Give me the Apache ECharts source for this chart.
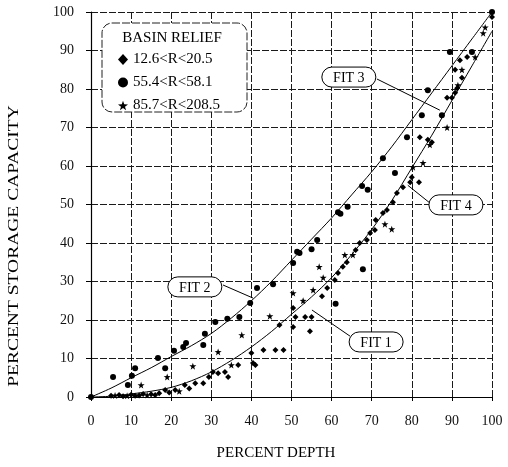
<!DOCTYPE html>
<html>
<head>
<meta charset="utf-8">
<script src="https://cdn.jsdelivr.net/npm/echarts@6/dist/echarts.min.js"></script>
<style>
html,body{margin:0;padding:0;background:#fff;}
#chart{width:508px;height:467px;}
</style>
</head>
<body>
<div id="chart"></div>
<script>
// ---- data ----
var xTicks = [0, 10, 20, 30, 40, 50, 60, 70, 80, 90, 100];
var yTicks = [0, 10, 20, 30, 40, 50, 60, 70, 80, 90, 100];
var seriesNames = ['12.6<R<20.5', '55.4<R<58.1', '85.7<R<208.5'];

// diamonds: basin relief 12.6 < R < 20.5
var lowRelief = [
  [5,0.3],[7,0.5],[8,0.2],[10,0.6],[11,0.3],[12,0.4],[13,0.8],[15,0.7],[16,0.5],[17,1.0],[18.5,1.8],
  [19.5,1.2],[21,1.8],[23.4,3.1],[24.5,2.2],[26,3.6],[28,3.6],[29.4,5.2],[30.4,6.5],[31.7,6.2],
  [33.4,6.5],[34.2,5.2],[36.7,8.3],
  [40,11.4],[40.4,8.8],[41,8.3],[43,12.2],[46,12.2],[48,12.2],[47,18.7],[50.4,18.2],[50.4,23.1],
  [51,20.8],[53.4,20.8],[55,20.8],[54.6,17.1],[57.6,26.2],[58.9,28.3],[60.8,30.4],[61.6,32.2],
  [62.8,33.8],[63.8,35],[66,38.2],[67,40],[68.8,40.8],[69.6,42.6],[70.8,43.4],[71,46],
  [72.8,47.8],[73.8,48.6],[75.3,50.6],[76.3,53],[77.8,54.5],[79.6,55.8],[81.8,55.8],[80,57.1],
  [82,67.5],[84,66.8],[85,66.2],[88.8,77.7],[90,77.7],[90.8,79],[91.3,80.2],[92.5,82.9],
  [90.8,85],[92,87.5],[93.8,88.3],[100,98.7]
];
// circles: basin relief 55.4 < R < 58.1
var midRelief = [
  [0,0],[5.5,5.2],[9.2,3.1],[10.2,5.5],[11,7.5],[16.7,10.1],[18.5,7.5],[20.7,12],[23,13],[23.7,14],
  [28,13.5],[28.4,16.4],[31,19.5],[34,20.3],[37,20.8],[39.7,24.4],[41.4,28.3],[45.4,29.3],
  [50.4,34.8],[51.4,37.7],[52,37.4],[55,38.4],[56.4,40.8],[61,24.2],[61.6,48],[62.2,47.6],
  [64,49.4],[67.8,33.2],[67.6,54.8],[69,53.8],[72.8,62],[75.8,58.2],[78.8,67.5],[82.5,73.2],
  [84,79.7],[87.5,73.2],[89.5,89.6],[95,89.6],[100,100]
];
// stars: basin relief 85.7 < R < 208.5
var highRelief = [
  [6,0.4],[9,0.3],[12.5,3.1],[14,0.5],[19,5.2],[22,1.5],[25.4,8],[31.7,11.7],[35,8.3],
  [37.6,16.1],[44.6,21],[50.4,27],[52.9,25],[55.4,27.8],[56.9,33.8],[57.9,31],[63.3,36.9],
  [65.3,36.9],[73.3,44.9],[75,43.6],[80.3,59.7],[82.8,60.8],[84.5,65.5],[88.8,70],
  [91.5,81],[92.5,85],[95.8,88.3],[97.8,94.5],[98.3,96]
];
// fitted curves (read every 5 % depth)
var upperFit = [[0,0],[5,2.3],[10,5],[15,7.6],[20,10.5],[25,13.3],[30,16.5],[35,20.5],[40,25],[45,30],
  [50,35.5],[55,41],[60,46.5],[65,52.5],[70,58.5],[75,65],[80,72],[85,79],[90,86],[95,93],[100,100]];
var lowerFit = [[0,0],[5,0.2],[10,0.8],[15,1.5],[20,2.5],[25,4.2],[30,6.5],[35,9.5],[40,13],[45,17],
  [50,21.5],[55,26],[60,31],[65,37],[70,43.5],[75,51],[80,59.5],[85,68],[90,77],[95,86],[100,95]];

// fit label annotations: [text, label centre (data), pointer start (data), pointer end (data)]
var fitLabels = [
  ['FIT 3', [64.3, 83.1], [71.3, 82.6], [87, 74.5]],
  ['FIT 4', [91, 49.9], [84.5, 50.4], [79, 55]],
  ['FIT 2', [25.9, 28.6], [32.9, 29.1], [40.4, 25.7]],
  ['FIT 1', [71.1, 14.3], [64.6, 15.8], [55.1, 22.6]]
];

var SERIF = '"Liberation Serif", "DejaVu Serif", serif';
var STAR = 'path://M50 0 L61.76 33.82 L97.55 34.55 L69.02 56.18 L79.39 90.45 L50 70 L20.61 90.45 L30.98 56.18 L2.45 34.55 L38.24 33.82 Z';

var chart = echarts.init(document.getElementById('chart'), null, {renderer: 'canvas', width: 508, height: 467});

var gridLine = {show: true, lineStyle: {color: '#1a1a1a', width: 1, type: [7, 2]}};

var option = {
  animation: false,
  backgroundColor: '#fff',
  grid: {left: 91, right: 16, top: 12, bottom: 70},
  xAxis: {
    type: 'value', min: xTicks[0], max: xTicks[xTicks.length - 1], interval: 10,
    axisLine: {show: true, onZero: false, lineStyle: {color: '#000', width: 1}},
    axisTick: {show: true, length: 4, lineStyle: {color: '#000'}},
    axisLabel: {margin: 17, color: '#111', fontFamily: SERIF, fontSize: 14},
    splitLine: gridLine
  },
  yAxis: {
    type: 'value', min: yTicks[0], max: yTicks[yTicks.length - 1], interval: 10,
    axisLine: {show: true, onZero: false, lineStyle: {color: '#000', width: 1.2}},
    axisTick: {show: true, length: 5, lineStyle: {color: '#000'}},
    axisLabel: {margin: 17, color: '#111', fontFamily: SERIF, fontSize: 14},
    splitLine: gridLine
  },
  legend: {
    show: true, orient: 'vertical', left: 113, top: 47,
    itemWidth: 10, itemHeight: 11, itemGap: 8,
    data: seriesNames,
    selectedMode: false,
    textStyle: {fontFamily: SERIF, fontSize: 15, color: '#000', width: 98, align: 'right'}
  },
  series: [
    {name: 'upper fit', type: 'line', data: upperFit, smooth: 0.3, symbol: 'none',
     lineStyle: {color: '#000', width: 1}, z: 3, silent: true},
    {name: 'lower fit', type: 'line', data: lowerFit, smooth: 0.3, symbol: 'none',
     lineStyle: {color: '#000', width: 1}, z: 3, silent: true},
    {name: seriesNames[0], type: 'scatter', data: lowRelief, symbol: 'diamond', symbolSize: 6,
     itemStyle: {color: '#000', opacity: 1}, z: 4},
    {name: seriesNames[1], type: 'scatter', data: midRelief, symbol: 'circle', symbolSize: 6,
     itemStyle: {color: '#000', opacity: 1}, z: 4},
    {name: seriesNames[2], type: 'scatter', data: highRelief, symbol: STAR, symbolSize: 7,
     itemStyle: {color: '#000', opacity: 1}, z: 4}
  ]
};
chart.setOption(option);

// overlay: legend box, titles, fit label pills with pointers
function px(p) { return chart.convertToPixel({gridIndex: 0}, p); }
var g = [];
g.push({type: 'rect', shape: {x: 102, y: 23, width: 145, height: 89, r: 10},
        style: {fill: '#fff', stroke: '#222', lineWidth: 1, lineDash: [8, 2]}, z: 3});
g.push({type: 'text', x: 172, y: 38, z: 10,
        style: {text: 'BASIN RELIEF', font: '15px ' + SERIF, fill: '#000', align: 'center', verticalAlign: 'middle'}});
g.push({type: 'text', x: 14, y: 246, rotation: Math.PI / 2, scaleX: 1.3, z: 10,
        style: {text: 'PERCENT STORAGE CAPACITY', font: '15px ' + SERIF, fill: '#000', align: 'center', verticalAlign: 'middle'}});
g.push({type: 'text', x: 276, y: 453, z: 10,
        style: {text: 'PERCENT DEPTH', font: '15px ' + SERIF, fill: '#000', align: 'center', verticalAlign: 'middle'}});
fitLabels.forEach(function (f) {
  var c = px(f[1]), a = px(f[2]), b = px(f[3]);
  g.push({type: 'line', shape: {x1: a[0], y1: a[1], x2: b[0], y2: b[1]},
          style: {stroke: '#000', lineWidth: 1}, z: 20});
  g.push({type: 'rect', shape: {x: c[0] - 27, y: c[1] - 10, width: 54, height: 20, r: 10},
          style: {fill: '#fff', stroke: '#000', lineWidth: 1}, z: 21});
  g.push({type: 'text', x: c[0], y: c[1] + 1, z: 22,
          style: {text: f[0], font: '14px ' + SERIF, fill: '#000', align: 'center', verticalAlign: 'middle'}});
});
chart.setOption({graphic: {elements: g}});
</script>
</body>
</html>
